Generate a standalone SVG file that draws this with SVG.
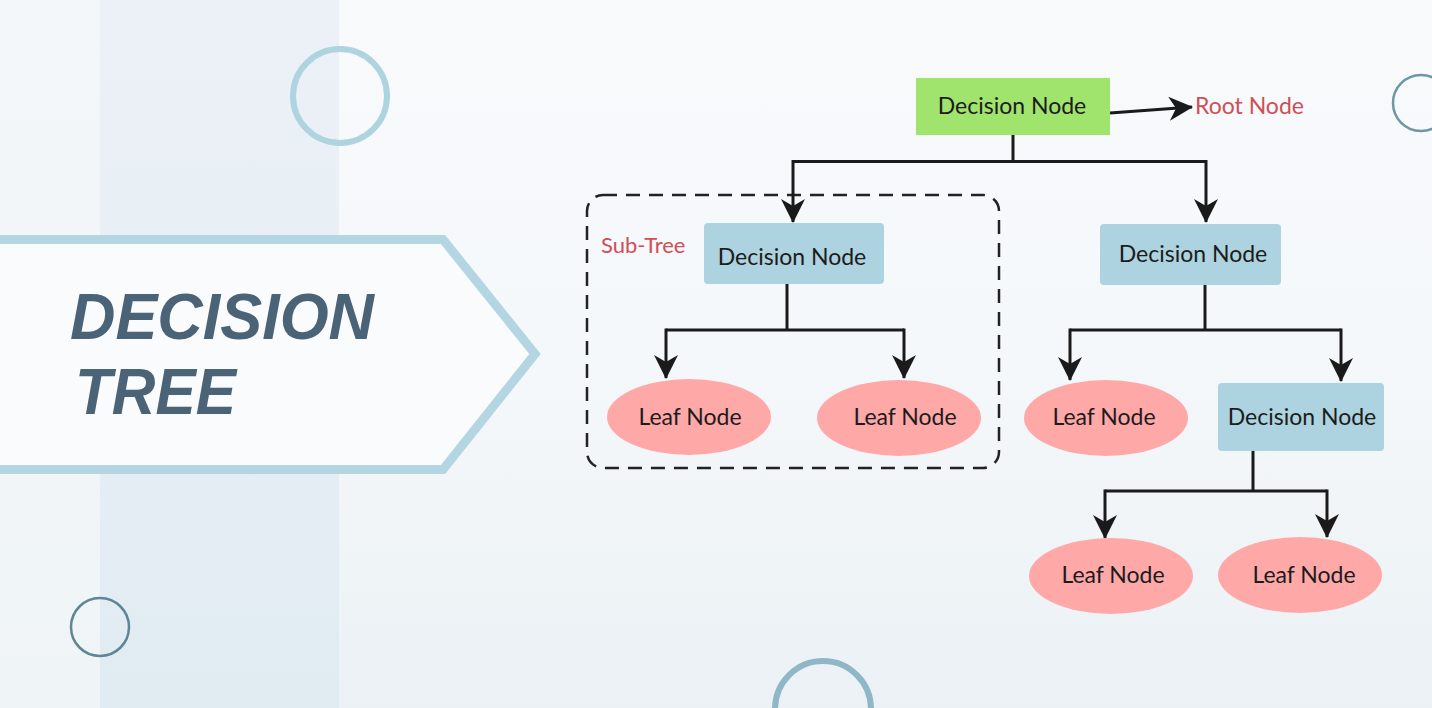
<svg xmlns="http://www.w3.org/2000/svg" width="1432" height="708" viewBox="0 0 1432 708">
  <defs>
    <linearGradient id="bg" x1="0" y1="0" x2="0" y2="1">
      <stop offset="0" stop-color="#f8fafc"/>
      <stop offset="0.5" stop-color="#f5f8fa"/>
      <stop offset="1" stop-color="#ebf1f5"/>
    </linearGradient>
    <linearGradient id="band" x1="0" y1="0" x2="0" y2="1">
      <stop offset="0" stop-color="#ebf1f6"/>
      <stop offset="0.5" stop-color="#e8eff5"/>
      <stop offset="1" stop-color="#e0ebf2"/>
    </linearGradient>
    <marker id="arr" viewBox="0 0 24 24" refX="23" refY="12" markerWidth="24" markerHeight="24" markerUnits="userSpaceOnUse" orient="auto">
      <path d="M0,0 L24,12 L0,24 L7,12 Z" fill="#1a1a1a"/>
    </marker>
    <style>
      .lbl { font-family: Lato, "Open Sans", sans-serif; font-size: 23px; fill: #1c1c1c; text-anchor: middle; }
      .red { font-family: Lato, "Open Sans", sans-serif; fill: #cf4f57; }
      .dec { fill: #acd3df; }
      .leaf { fill: #ffa8a8; }
      .conn { fill: none; stroke: #1a1a1a; stroke-width: 3; }
      .title { font-family: "Liberation Sans", Arial, sans-serif; font-weight: bold; font-style: italic; font-size: 65px; fill: #4b6376; }
    </style>
  </defs>

  <!-- background -->
  <rect x="0" y="0" width="1432" height="708" fill="url(#bg)"/>
  <rect x="0" y="0" width="100" height="708" fill="#f1f5f8" opacity="0.7"/>
  <rect x="100" y="0" width="239" height="708" fill="url(#band)"/>

  <!-- decorative circles -->
  <circle cx="340" cy="96" r="47" fill="none" stroke="#aed4e0" stroke-width="6"/>
  <circle cx="100" cy="627" r="29" fill="none" stroke="#5f8596" stroke-width="2.5"/>
  <circle cx="1421" cy="103" r="28" fill="none" stroke="#6f96a5" stroke-width="2.5"/>
  <circle cx="823" cy="709" r="48" fill="none" stroke="#8fb8c7" stroke-width="6"/>

  <!-- banner -->
  <g id="banner">
    <polygon points="-10,239.5 443,239.5 535,354 443,469.5 -10,469.5" fill="#f9fbfd" stroke="#b3d6e2" stroke-width="9"/>
    <text class="title" x="70" y="339" textLength="304" lengthAdjust="spacingAndGlyphs">DECISION</text>
    <text class="title" x="75" y="414" textLength="161" lengthAdjust="spacingAndGlyphs">TREE</text>
  </g>

  <!-- sub-tree box -->
  <g id="subtree">
    <rect x="587" y="195" width="412" height="273" rx="16" fill="none" stroke="#222" stroke-width="2.5" stroke-dasharray="14 9"/>
    <text class="red" x="601" y="253" font-size="22">Sub-Tree</text>
  </g>

  <!-- connectors -->
  <g id="connectors">
    <path class="conn" d="M1110,113 L1192,107" marker-end="url(#arr)"/>
    <path class="conn" d="M1013,135 V161.5 M793,161.5 H1206"/>
    <path class="conn" d="M793,160 V222" marker-end="url(#arr)"/>
    <path class="conn" d="M1206,160 V222" marker-end="url(#arr)"/>
    <path class="conn" d="M787,284 V330 M666,330 H904"/>
    <path class="conn" d="M666,328.5 V378" marker-end="url(#arr)"/>
    <path class="conn" d="M904,328.5 V378" marker-end="url(#arr)"/>
    <path class="conn" d="M1205,285 V330 M1070,330 H1341"/>
    <path class="conn" d="M1070,328.5 V380" marker-end="url(#arr)"/>
    <path class="conn" d="M1341,328.5 V381" marker-end="url(#arr)"/>
    <path class="conn" d="M1253,451 V491 M1105,491 H1327"/>
    <path class="conn" d="M1105,489.5 V538" marker-end="url(#arr)"/>
    <path class="conn" d="M1327,489.5 V537" marker-end="url(#arr)"/>
  </g>

  <!-- nodes -->
  <g id="root">
    <rect x="916" y="78" width="194" height="57" fill="#a0e46e"/>
    <text class="lbl" x="1012" y="114">Decision Node</text>
  </g>
  <g id="root-label">
    <text class="red" x="1195" y="114" font-size="23">Root Node</text>
  </g>
  <g id="dec-left">
    <rect class="dec" x="704" y="223" width="180" height="61" rx="4"/>
    <text class="lbl" x="792" y="265">Decision Node</text>
  </g>
  <g id="dec-right">
    <rect class="dec" x="1100" y="224" width="181" height="61" rx="4"/>
    <text class="lbl" x="1193" y="262">Decision Node</text>
  </g>
  <g id="dec-3">
    <rect class="dec" x="1218" y="383" width="166" height="68" rx="4"/>
    <text class="lbl" x="1302" y="425">Decision Node</text>
  </g>
  <g id="leaf-1">
    <ellipse class="leaf" cx="689" cy="417" rx="82" ry="38"/>
    <text class="lbl" x="690" y="425">Leaf Node</text>
  </g>
  <g id="leaf-2">
    <ellipse class="leaf" cx="899" cy="418" rx="82" ry="38"/>
    <text class="lbl" x="905" y="425">Leaf Node</text>
  </g>
  <g id="leaf-3">
    <ellipse class="leaf" cx="1106" cy="418" rx="82" ry="38"/>
    <text class="lbl" x="1104" y="425">Leaf Node</text>
  </g>
  <g id="leaf-4">
    <ellipse class="leaf" cx="1111" cy="576" rx="82" ry="38"/>
    <text class="lbl" x="1113" y="583">Leaf Node</text>
  </g>
  <g id="leaf-5">
    <ellipse class="leaf" cx="1300" cy="575" rx="82" ry="38"/>
    <text class="lbl" x="1304" y="583">Leaf Node</text>
  </g>
</svg>
